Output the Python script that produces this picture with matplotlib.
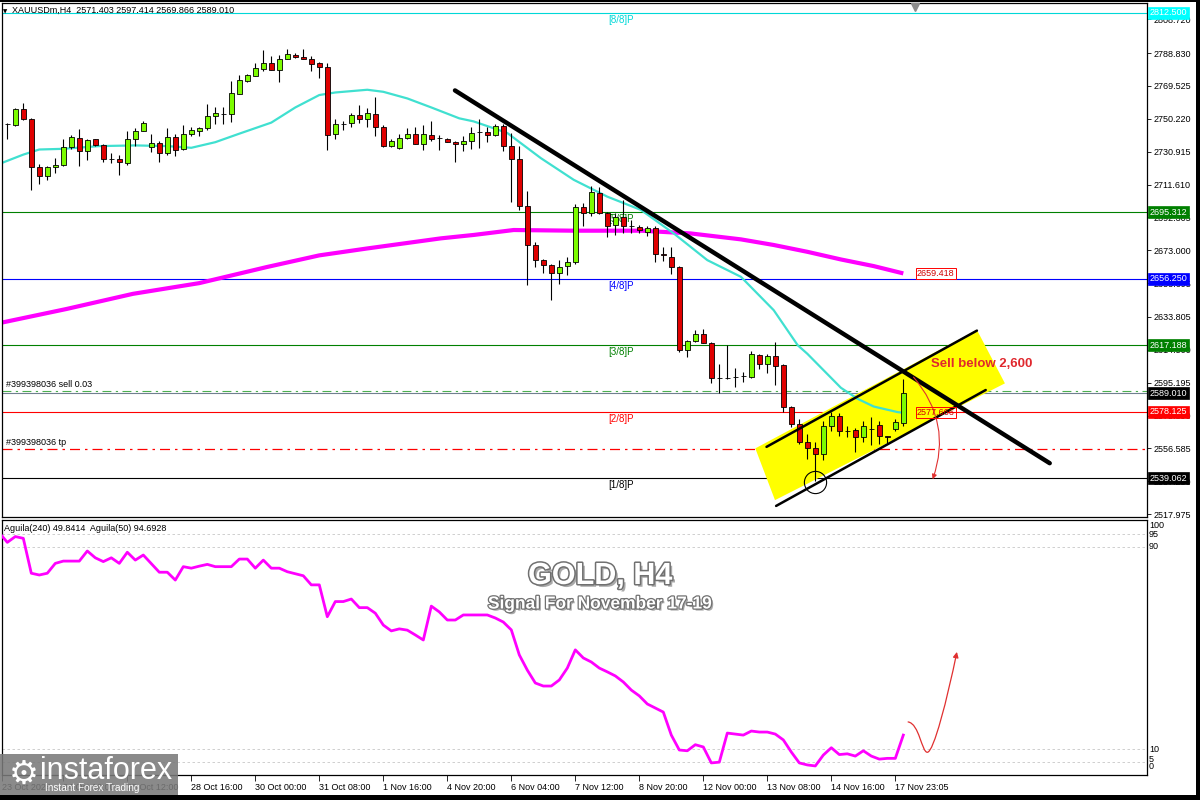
import matplotlib
matplotlib.use('Agg')
import matplotlib.pyplot as plt
import matplotlib.patheffects as pe
import matplotlib.transforms as mtrans
from matplotlib.patches import Rectangle, Polygon, FancyArrowPatch
from matplotlib.path import Path

plt.rcParams['font.family'] = ['Liberation Sans', 'DejaVu Sans']

# ---------------- data ----------------
opens = [2747.0, 2746.4, 2755.9, 2750.3, 2721.9, 2716.4, 2721.9, 2722.9, 2733.8, 2739.1,
         2731.2, 2738.1, 2734.6, 2726.7, 2726.7, 2724.3, 2738.1, 2743.0, 2733.8, 2736.1,
         2730.2, 2739.7, 2732.6, 2741.1, 2743.0, 2744.6, 2751.9, 2753.0, 2752.9, 2765.1,
         2772.6, 2775.6, 2779.5, 2782.9, 2779.1, 2785.5, 2788.0, 2786.8, 2785.5, 2782.9,
         2780.5, 2741.1, 2747.0, 2747.6, 2752.3, 2750.3, 2752.9, 2745.6, 2734.2, 2733.2,
         2739.1, 2741.5, 2735.7, 2740.9, 2739.1, 2738.5, 2736.7, 2735.4, 2737.0, 2742.3,
         2742.6, 2740.7, 2745.8, 2734.4, 2726.5, 2699.0, 2675.9, 2667.2, 2664.3, 2659.4,
         2663.7, 2666.2, 2698.7, 2694.7, 2706.9, 2694.7, 2687.9, 2692.8, 2687.3, 2686.9,
         2683.5, 2685.9, 2670.6, 2669.2, 2662.9, 2614.6, 2619.7, 2624.0, 2618.7, 2598.1,
         2598.2, 2598.5, 2598.9, 2598.5, 2611.3, 2606.3, 2610.9, 2605.4, 2581.2, 2571.0,
         2560.2, 2556.9, 2553.3, 2570.0, 2575.9, 2567.1, 2567.5, 2563.5, 2568.0, 2570.6,
         2564.1, 2568.0, 2571.403]
highs = [2748.0, 2756.3, 2759.4, 2750.7, 2723.5, 2722.7, 2727.3, 2738.5, 2740.5, 2744.0,
         2738.5, 2738.5, 2735.7, 2730.2, 2729.2, 2743.0, 2745.0, 2748.8, 2741.1, 2737.1,
         2745.0, 2741.1, 2746.8, 2745.4, 2745.6, 2758.8, 2757.4, 2757.4, 2772.2, 2776.0,
         2776.6, 2783.1, 2790.4, 2787.4, 2787.8, 2791.4, 2789.0, 2791.4, 2787.4, 2783.5,
         2783.1, 2750.3, 2749.0, 2753.5, 2758.6, 2756.3, 2762.8, 2746.4, 2738.1, 2741.1,
         2745.0, 2745.6, 2746.4, 2749.0, 2740.5, 2738.9, 2737.3, 2739.9, 2745.4, 2750.1,
         2745.4, 2747.4, 2747.4, 2741.9, 2734.0, 2708.1, 2678.0, 2667.6, 2664.9, 2667.2,
         2669.2, 2700.2, 2700.6, 2710.8, 2710.0, 2695.7, 2694.7, 2702.6, 2690.8, 2687.9,
         2687.3, 2687.3, 2675.1, 2675.1, 2663.7, 2620.5, 2626.4, 2627.0, 2619.1, 2605.9,
         2617.1, 2604.0, 2601.4, 2613.8, 2612.2, 2611.8, 2618.9, 2605.9, 2581.8, 2573.9,
         2565.1, 2560.2, 2572.6, 2577.9, 2577.3, 2570.0, 2568.6, 2572.6, 2575.3, 2572.6,
         2564.1, 2573.9, 2597.414]
lows = [2738.5, 2746.0, 2749.5, 2708.5, 2712.1, 2714.0, 2718.4, 2722.7, 2732.6, 2722.3,
        2725.9, 2734.2, 2724.7, 2724.3, 2717.4, 2723.3, 2734.2, 2742.8, 2731.0, 2724.7,
        2729.2, 2728.2, 2732.2, 2740.1, 2740.1, 2743.6, 2747.0, 2747.0, 2748.4, 2764.7,
        2772.0, 2775.2, 2778.5, 2779.1, 2771.6, 2785.1, 2785.9, 2785.1, 2778.5, 2774.0,
        2731.8, 2738.1, 2743.6, 2745.6, 2747.6, 2745.6, 2740.1, 2733.8, 2733.8, 2732.6,
        2738.1, 2735.2, 2732.2, 2737.1, 2732.2, 2736.5, 2724.7, 2731.6, 2732.4, 2733.0,
        2736.4, 2740.3, 2731.1, 2701.6, 2696.7, 2652.5, 2663.3, 2659.4, 2643.7, 2652.9,
        2658.4, 2664.7, 2687.3, 2693.2, 2694.3, 2681.0, 2682.0, 2683.0, 2683.0, 2683.3,
        2681.4, 2666.2, 2666.8, 2659.0, 2613.2, 2610.3, 2618.9, 2618.5, 2595.0, 2589.1,
        2597.5, 2592.6, 2595.5, 2598.1, 2603.4, 2600.8, 2593.6, 2577.9, 2569.0, 2559.2,
        2550.4, 2537.6, 2549.8, 2567.1, 2564.1, 2563.5, 2554.3, 2560.2, 2558.8, 2559.2,
        2559.2, 2567.1, 2569.866]
closes = [2747.2, 2755.9, 2749.9, 2721.9, 2716.4, 2721.9, 2723.3, 2733.8, 2739.3, 2731.2,
          2737.5, 2734.6, 2726.7, 2726.9, 2724.7, 2738.1, 2743.2, 2747.6, 2736.1, 2730.2,
          2739.7, 2732.2, 2741.5, 2743.4, 2745.0, 2751.9, 2753.5, 2752.9, 2765.3, 2773.0,
          2776.0, 2780.3, 2782.9, 2779.1, 2785.5, 2788.4, 2786.4, 2785.5, 2782.7, 2780.5,
          2740.7, 2747.0, 2747.2, 2752.7, 2749.9, 2753.5, 2745.6, 2734.2, 2737.3, 2739.1,
          2741.5, 2735.7, 2741.5, 2738.5, 2739.0, 2736.9, 2735.5, 2737.3, 2741.9, 2742.2,
          2740.7, 2745.8, 2734.4, 2726.5, 2699.0, 2675.9, 2667.2, 2664.1, 2659.4, 2663.3,
          2666.4, 2698.7, 2694.7, 2707.5, 2694.7, 2687.5, 2692.4, 2687.5, 2687.2, 2684.9,
          2685.9, 2670.8, 2670.5, 2662.9, 2614.6, 2619.7, 2624.0, 2618.7, 2598.1, 2598.2,
          2598.0, 2598.6, 2599.0, 2611.8, 2606.3, 2610.9, 2605.0, 2581.2, 2571.0, 2560.2,
          2556.9, 2553.3, 2570.0, 2575.9, 2567.1, 2567.0, 2563.5, 2570.0, 2568.1, 2564.1,
          2563.1, 2571.9, 2589.010]

# moving averages (candle index, price)
ma_fast_idx = [-0.9, 2, 4, 7, 11.5, 16, 20, 23, 26, 29, 33, 36, 39, 41, 45, 47, 50, 53,
               56.5, 58.3, 62.5, 66.7, 70.8, 75, 79.2, 83.3, 87.5, 91.7, 95.8, 98.8, 100,
               104.2, 106.3, 108.3, 111.3, 111.7]
ma_fast_val = [2723.9, 2729.2, 2732.2, 2732.6, 2734.2, 2734.6, 2734.2, 2733.2, 2736.5,
               2741.5, 2748.0, 2756.9, 2764.2, 2765.7, 2767.3, 2766.1, 2762.2, 2756.9,
               2750.5, 2748.7, 2741.9, 2727.1, 2714.4, 2704.5, 2696.7, 2682.9, 2667.2,
               2657.4, 2637.8, 2617.2, 2612.2, 2592.2, 2585.7, 2581.2, 2577.9, 2577.7]
ma_slow_idx = [-0.9, 7.4, 15.7, 24, 32.4, 39, 44.9, 54.2, 58.3, 63.3, 70.8, 79.2, 85.4,
               91.7, 95.8, 100, 104.2, 108.3, 112]
ma_slow_val = [2630.3, 2638.5, 2647.4, 2653.7, 2663.1, 2670.0, 2674.0, 2680.0, 2682.0,
               2684.9, 2684.5, 2684.5, 2682.9, 2679.4, 2676.1, 2672.1, 2667.6, 2663.7, 2659.4]

# Aguila oscillator, one value per candle starting at index -1
aguila = [95.5, 91.7, 94.0, 93.3, 79.5, 78.8, 79.5, 83.4, 84.3, 84.3, 84.3, 88.3, 85.6,
          84.1, 85.6, 83.4, 87.8, 84.7, 86.7, 83.3, 79.9, 79.9, 76.8, 82.1, 81.5, 82.3,
          83.0, 82.1, 82.1, 82.1, 85.1, 85.1, 81.5, 84.7, 81.5, 81.5, 80.1, 79.3, 78.5,
          74.9, 74.9, 62.3, 68.3, 68.3, 69.3, 65.9, 65.9, 63.7, 59.0, 56.7, 57.5, 57.0,
          55.1, 53.1, 66.5, 64.2, 61.0, 61.0, 63.0, 63.0, 63.0, 63.0, 61.8, 60.2, 57.1,
          47.2, 41.2, 36.1, 34.9, 34.9, 37.3, 42.0, 49.2, 46.0, 44.4, 42.0, 40.5, 38.9,
          36.5, 33.3, 31.0, 27.8, 26.2, 24.6, 15.5, 9.6, 9.3, 11.7, 10.8, 4.5, 4.8, 16.3,
          15.9, 15.5, 17.1, 16.7, 16.7, 15.9, 13.6, 8.8, 4.5, 3.7, 3.3, 7.6, 10.5, 7.8,
          8.1, 7.2, 9.3, 7.2, 6.0, 6.3, 6.3, 15.5]

# Murrey math levels
murrey_levels = [2812.500, 2695.312, 2656.250, 2617.188, 2578.125, 2539.062]
murrey_names = ['[8/8]P', '[5/8]P', '[4/8]P', '[3/8]P', '[2/8]P', '[1/8]P']
murrey_colors = ['#00D8D8', '#008000', '#0000FF', '#008000', '#FF0000', '#000000']
murrey_tag_bg = ['#00FFFF', '#008000', '#0000FF', '#008000', '#FF0000', '#000000']

sell_price = 2590.3
bid_price = 2589.010
tp_price = 2556.2

price_ticks = [2808.720, 2788.830, 2769.525, 2750.220, 2730.915, 2711.610, 2692.305,
               2673.000, 2653.695, 2633.805, 2614.500, 2595.195, 2575.890, 2556.585,
               2537.280, 2517.975]

time_tick_idx = [-0.7, 7, 15, 23, 31, 39, 47, 55, 63, 71, 79, 87, 95, 103, 111]
time_labels = ['23 Oct 2024', '24 Oct 16:00', '25 Oct 12:00', '28 Oct 16:00', '30 Oct 00:00',
               '31 Oct 08:00', '1 Nov 16:00', '4 Nov 20:00', '6 Nov 04:00', '7 Nov 12:00',
               '8 Nov 20:00', '12 Nov 00:00', '13 Nov 08:00', '14 Nov 16:00', '17 Nov 23:05']

# drawn objects (candle index, price)
trend_x = [55.96, 130.3]
trend_y = [2766.9, 2547.9]
chan_up_x = [94.9, 121.2]
chan_up_y = [2557.5, 2625.8]
chan_lo_x = [96.1, 122.3]
chan_lo_y = [2522.8, 2590.9]
box_x = [93.5, 121.2, 124.7, 95.96]
box_y = [2556.6, 2626.2, 2594.8, 2526.2]
circle_pt = (101, 2536.6)

# ---------------- figure ----------------
W, H = 1200, 800
fig = plt.figure(figsize=(12, 8), dpi=100)
fig.patch.set_facecolor('white')

def fx(px):
    return px / W

def fy(py):
    return 1 - py / H

L, R = 1.5, 1147
mt, mb = 3, 517
it, ib = 520, 775
ax = fig.add_axes([fx(L), fy(mb), fx(R - L), (mb - mt) / H])
axi = fig.add_axes([fx(L), fy(ib), fx(R - L), (ib - it) / H])

pp = 0.5875  # price per pixel
ax.set_xlim(-0.725, 142.46)
ax.set_ylim(2595.195 - (mb - 382.7) * pp, 2595.195 + (382.7 - mt) * pp)
axi.set_xlim(-0.725, 142.46)
axi.set_ylim(-0.28, 100.55)

for a in (ax, axi):
    for s in a.spines.values():
        s.set_color('black')
        s.set_linewidth(0.9)
    a.set_facecolor('white')

# candles
n = len(opens)
idx = list(range(n))
ax.vlines(idx, lows, highs, color='black', lw=0.8, zorder=3)
up = [c >= o for o, c in zip(opens, closes)]
bot = [min(o, c) for o, c in zip(opens, closes)]
hgt = [abs(c - o) for o, c in zip(opens, closes)]
cols = ['#7CFC00' if u else '#E00000' for u in up]
ax.bar(idx, hgt, bottom=bot, width=0.62, color=cols, edgecolor='black', linewidth=0.6, zorder=4)

# moving averages
ax.plot(ma_slow_idx, ma_slow_val, color='#FF00FF', lw=3.0, zorder=2, solid_capstyle='butt')
ax.plot(ma_fast_idx, ma_fast_val, color='#40E0D0', lw=1.6, zorder=2)

# murrey lines
for lv, nm, c in zip(murrey_levels, murrey_names, murrey_colors):
    ax.axhline(lv, color=c, lw=0.8, zorder=1)
    ax.annotate(nm, xy=(75.1, lv), xytext=(0, -1.5), textcoords='offset points',
                ha='left', va='top', fontsize=7, color=c, zorder=3)

# order lines
ax.axhline(bid_price, color='#708090', lw=0.8, zorder=1)
ax.axhline(sell_price, color='#4CAF50', lw=0.8, ls=(0, (8, 4, 2, 4)), zorder=1)
ax.axhline(tp_price, color='#FF0000', lw=0.9, ls=(0, (8, 4, 2, 4)), zorder=1)
ax.annotate('#399398036 sell 0.03', xy=(-0.2, sell_price), xytext=(0, 1.5),
            textcoords='offset points', ha='left', va='bottom', fontsize=6.5, color='black')
ax.annotate('#399398036 tp', xy=(-0.2, tp_price), xytext=(0, 1.5),
            textcoords='offset points', ha='left', va='bottom', fontsize=6.5, color='black')

# yellow channel
ax.add_patch(Polygon(list(zip(box_x, box_y)), closed=True, fc='#FFFF00', ec='none', zorder=1.5))
ax.plot(chan_up_x, chan_up_y, color='black', lw=1.8, zorder=5, solid_capstyle='round')
ax.plot(chan_lo_x, chan_lo_y, color='black', lw=1.8, zorder=5, solid_capstyle='round')
ax.plot(trend_x, trend_y, color='black', lw=3.2, zorder=5, solid_capstyle='round')
ax.plot([circle_pt[0]], [circle_pt[1]], marker='o', ms=16, mfc='none', mec='black', mew=0.8, zorder=6)

ax.text(115.4, 2606.0, 'Sell below 2,600', fontsize=9.5, fontweight='bold', color='#E0282E',
        ha='left', va='center', zorder=6)

# red arrow (main)
arr = FancyArrowPatch((113.05, 2599.7), (115.55, 2536.9), connectionstyle='arc3,rad=-0.3',
                      arrowstyle='-|>', mutation_scale=7, color='#E03030', lw=0.8, zorder=6)
ax.add_patch(arr)

# value boxes near line ends
for val in (2659.418, 2577.666):
    ax.text(113.7, val, f'{val:.3f}', fontsize=6.5, color='#D00000', ha='left', va='center', zorder=6,
            bbox=dict(boxstyle='square,pad=0.12', fc='white' if val > 2600 else 'none', ec='#FF0000', lw=0.7))

# price axis
ax.yaxis.tick_right()
ax.set_yticks(price_ticks)
ax.set_yticklabels([f'{t:.3f}' for t in price_ticks])
ax.tick_params(axis='y', direction='out', length=3, width=0.6, labelsize=6.5, pad=1.5, colors='black')
ax.set_xticks([])

def tag(a, y, s, bg, fg='white'):
    a.annotate(s, xy=(1, y), xycoords=('axes fraction', 'data'), xytext=(1.8, 0),
               textcoords='offset points', ha='left', va='center', fontsize=6.5, color=fg,
               zorder=10, annotation_clip=False,
               bbox=dict(boxstyle='square,pad=0.18', fc=bg, ec=bg, lw=0.5))

for lv, bg in zip(murrey_levels, murrey_tag_bg):
    tag(ax, lv, f'{lv:.3f}', bg)
tag(ax, bid_price, f'{bid_price:.3f}', '#000000')

# header texts
ax.text(0.0095, 0.985, 'XAUUSDm,H4  2571.403 2597.414 2569.866 2589.010', transform=ax.transAxes,
        fontsize=6.5, ha='left', va='center', color='black', zorder=7)
fig.text(fx(3), fy(11.5), '\u25BC', fontsize=4, family='DejaVu Sans', ha='left', va='center')
ax.plot([113.5], [ax.get_ylim()[1] - 2.5], marker='v', ms=6, color='#8C8C8C', clip_on=False, zorder=8)

# ---------------- indicator ----------------
ag_idx = list(range(-1, len(aguila) - 1))
axi.plot(ag_idx, aguila, color='#FF00FF', lw=2.0, zorder=3)
for lv in (95, 90, 10, 5):
    axi.axhline(lv, color='#C8C8C8', lw=0.6, ls=(0, (3, 3)), zorder=1)
blend = mtrans.blended_transform_factory(axi.transAxes, axi.transData)
for lab, v in (('100', 98.3), ('95', 95.0), ('90', 90.0), ('10', 10.0), ('5', 6.0), ('0', 3.2)):
    axi.annotate(lab, xy=(1, v), xycoords=blend, xytext=(1.5, 0), textcoords='offset points',
                 ha='left', va='center', fontsize=6.5, annotation_clip=False)
axi.set_yticks([])
axi.text(0.002, 0.965, 'Aguila(240) 49.8414  Aguila(50) 94.6928', transform=axi.transAxes,
         fontsize=6.5, ha='left', va='center')

axi.set_xticks(time_tick_idx)
axi.set_xticklabels(time_labels)
for t in axi.get_xticklabels():
    t.set_horizontalalignment('left')
axi.tick_params(axis='x', direction='out', length=4, width=0.6, labelsize=6.5, pad=2)

# red arrow in indicator
verts = [(112.6, 20.7), (114.0, 20.0), (114.3, 8.7), (115.0, 8.7),
         (115.8, 8.7), (117.5, 30.0), (118.7, 48.4)]
codes = [Path.MOVETO, Path.CURVE4, Path.CURVE4, Path.CURVE4, Path.CURVE4, Path.CURVE4, Path.CURVE4]
axi.add_patch(FancyArrowPatch(path=Path(verts, codes), arrowstyle='-|>', mutation_scale=8,
                              color='#E03030', lw=0.9, zorder=5))

# titles
shadow = [pe.withSimplePatchShadow(offset=(2, -2), shadow_rgbFace='#555555', alpha=0.5),
          pe.Stroke(linewidth=2.2, foreground='#707070'), pe.Normal()]
fig.text(fx(600), fy(576), 'GOLD, H4', fontsize=22, fontweight='bold', color='white',
         ha='center', va='center', path_effects=shadow, zorder=12)
shadow2 = [pe.withSimplePatchShadow(offset=(1.5, -1.5), shadow_rgbFace='#555555', alpha=0.5),
           pe.Stroke(linewidth=1.8, foreground='#707070'), pe.Normal()]
fig.text(fx(600), fy(604), 'Signal For November 17-19', fontsize=12.5, fontweight='bold',
         color='white', ha='center', va='center', path_effects=shadow2, zorder=12)

# logo
fig.add_artist(Rectangle((0, fy(795)), fx(178), (795 - 754) / H, transform=fig.transFigure,
                         fc='#7A7A7A', ec='none', alpha=0.88, zorder=20))
fig.text(fx(24), fy(774), '\u2699', fontsize=24, color='white', family='DejaVu Sans',
         ha='center', va='center', zorder=21)
fig.text(fx(40), fy(771), 'instaforex', fontsize=22, color='white', ha='left', va='center', zorder=21)
fig.text(fx(45), fy(788), 'Instant Forex Trading', fontsize=7.2, color='white', ha='left',
         va='center', zorder=21)

# window frame
fig.add_artist(Rectangle((0, fy(800)), 1, 5 / H, transform=fig.transFigure, fc='black', ec='none', zorder=30))
fig.add_artist(Rectangle((fx(1196), 0), 4 / W, 1, transform=fig.transFigure, fc='black', ec='none', zorder=30))
fig.add_artist(Rectangle((0, fy(2)), 1, 2 / H, transform=fig.transFigure, fc='black', ec='none', zorder=30))

fig.savefig('out.png', dpi=100)
